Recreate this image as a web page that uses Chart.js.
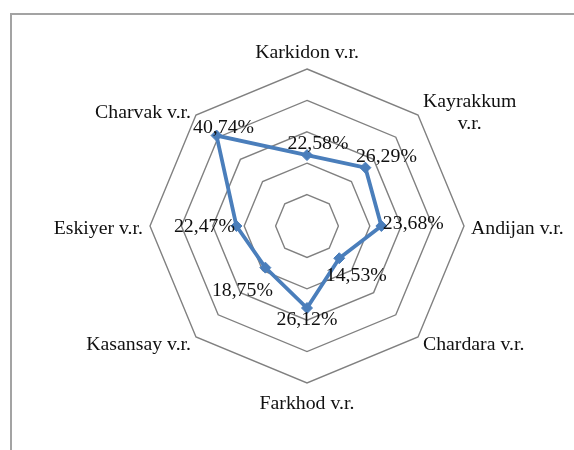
<!DOCTYPE html>
<html>
<head>
<meta charset="utf-8">
<script src="https://cdn.jsdelivr.net/npm/chart.js@4/dist/chart.umd.min.js"></script>
<style>
  html, body { margin: 0; padding: 0; background: #fff; }
  #wrap { position: relative; width: 574px; height: 450px; overflow: hidden; }
  #frame { position: absolute; left: 10px; top: 13px; width: 600px; height: 460px;
           border-left: 2px solid #a3a3a3; border-top: 2px solid #a3a3a3; }
  canvas { position: absolute; left: 0; top: 0; }
</style>
</head>
<body>
<div id="wrap">
  <div id="frame"></div>
  <canvas id="chart" width="574" height="450"></canvas>
</div>
<script>
// категории и значения (в процентах)
const categories = [
  "Karkidon v.r.",
  ["Kayrakkum", "v.r."],
  "Andijan v.r.",
  "Chardara v.r.",
  "Farkhod v.r.",
  "Kasansay v.r.",
  "Eskiyer v.r.",
  "Charvak v.r."
];
const values = [22.58, 26.29, 23.68, 14.53, 26.12, 18.75, 22.47, 40.74];
const scaleMin = 0;
const scaleMax = 50;
const scaleStep = 10;

// сдвиг подписей значений относительно точки (как в оригинале)
const labelOffsets = [
  [11, -11], [21, -11], [32, -2], [17, 18],
  [0, 12], [-23, 23], [-32, 1], [7, -8]
];

const FONT = "19.8px 'Liberation Serif', 'Times New Roman', serif";

// подписи осей рисуем сами, чтобы выровнять как в Excel
const pointLabelPlugin = {
  id: "pointLabelPlugin",
  afterDraw(chart) {
    const scale = chart.scales.r;
    const ctx = chart.ctx;
    const n = categories.length;
    ctx.save();
    ctx.font = FONT;
    ctx.fillStyle = "#111";
    categories.forEach((lab, i) => {
      const lines = Array.isArray(lab) ? lab : [lab];
      const angle = 360 * i / n;
      const pad = (angle === 0) ? 5 : (angle === 180 ? 10 : 7);
      const p = scale.getPointPosition(i, scale.drawingArea + pad);
      const lh = 22;
      const w = Math.max(...lines.map(l => ctx.measureText(l).width));
      const h = lh * lines.length;
      let left, top;
      if (angle === 0 || angle === 180) {
        left = p.x - w / 2;
      } else if (angle < 180) {
        left = p.x;
      } else {
        left = p.x - w;
      }
      if (angle === 0) top = p.y - h;
      else if (angle === 180) top = p.y;
      else top = p.y - h / 2 + 3;
      ctx.textAlign = "center";
      ctx.textBaseline = "middle";
      lines.forEach((l, k) => {
        ctx.fillText(l, left + w / 2, top + lh * k + lh / 2);
      });
    });
    ctx.restore();
  }
};

const valueLabelPlugin = {
  id: "valueLabelPlugin",
  afterDatasetsDraw(chart) {
    const meta = chart.getDatasetMeta(0);
    const ctx = chart.ctx;
    ctx.save();
    ctx.font = FONT;
    ctx.fillStyle = "#111";
    ctx.textAlign = "center";
    ctx.textBaseline = "middle";
    meta.data.forEach((pt, i) => {
      const txt = values[i].toFixed(2).replace(".", ",") + "%";
      ctx.fillText(txt, pt.x + labelOffsets[i][0], pt.y + labelOffsets[i][1]);
    });
    ctx.restore();
  }
};

new Chart(document.getElementById("chart"), {
  type: "radar",
  data: {
    labels: categories,
    datasets: [{
      data: values,
      borderColor: "#4a7ebb",
      backgroundColor: "#4a7ebb",
      borderWidth: 3.8,
      fill: false,
      tension: 0,
      pointStyle: "rectRot",
      pointRadius: 5.5,
      pointBorderWidth: 1,
      pointBackgroundColor: "#4a7ebb",
      pointBorderColor: "#4a7ebb"
    }]
  },
  options: {
    responsive: false,
    animation: false,
    devicePixelRatio: 1,
    layout: { padding: { left: 150, right: 110, top: 69, bottom: 67 } },
    plugins: {
      legend: { display: false },
      tooltip: { enabled: false }
    },
    scales: {
      r: {
        min: scaleMin,
        max: scaleMax,
        ticks: { stepSize: scaleStep, display: false },
        angleLines: { display: false },
        grid: { color: "#808080", lineWidth: 1.4 },
        pointLabels: { display: false }
      }
    }
  },
  plugins: [pointLabelPlugin, valueLabelPlugin]
});
</script>
</body>
</html>
